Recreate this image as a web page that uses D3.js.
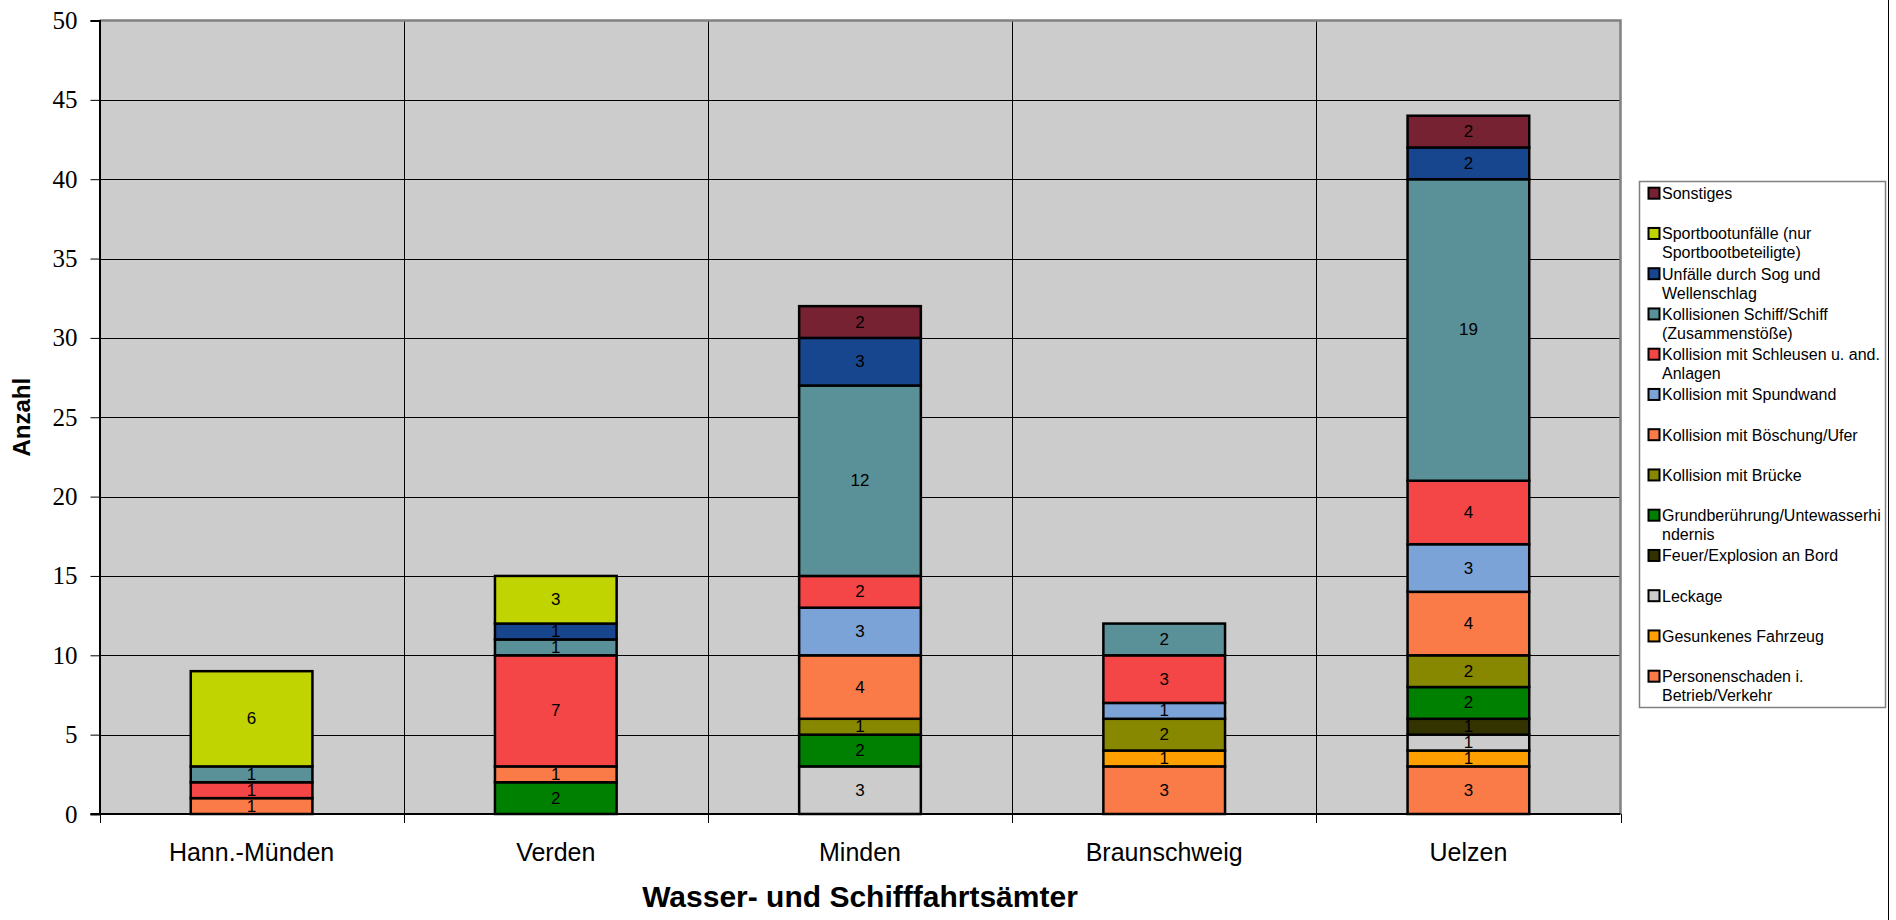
<!DOCTYPE html>
<html><head><meta charset="utf-8">
<script src="https://cdn.jsdelivr.net/npm/d3@7"></script>
<style>
html,body{margin:0;padding:0;background:#fff;}
svg{display:block;}
text{font-family:Arial,"Liberation Sans",sans-serif;}
</style></head>
<body>
<svg id="chart" width="1896" height="920"></svg>
<script>
// ---- data ----
const categories = ["Hann.-Münden", "Verden", "Minden", "Braunschweig", "Uelzen"];
// stacking order bottom -> top
const seriesNames = [
  "Personenschaden i. Betrieb/Verkehr",
  "Gesunkenes Fahrzeug",
  "Leckage",
  "Feuer/Explosion an Bord",
  "Grundberührung/Untewasserhindernis",
  "Kollision mit Brücke",
  "Kollision mit Böschung/Ufer",
  "Kollision mit Spundwand",
  "Kollision mit Schleusen u. and. Anlagen",
  "Kollisionen Schiff/Schiff (Zusammenstöße)",
  "Unfälle durch Sog und Wellenschlag",
  "Sportbootunfälle (nur Sportbootbeteiligte)",
  "Sonstiges"
];
const legendLines = [
  ["Personenschaden i.", "Betrieb/Verkehr"],
  ["Gesunkenes Fahrzeug"],
  ["Leckage"],
  ["Feuer/Explosion an Bord"],
  ["Grundberührung/Untewasserhi", "ndernis"],
  ["Kollision mit Brücke"],
  ["Kollision mit Böschung/Ufer"],
  ["Kollision mit Spundwand"],
  ["Kollision mit Schleusen u. and.", "Anlagen"],
  ["Kollisionen Schiff/Schiff", "(Zusammenstöße)"],
  ["Unfälle durch Sog und", "Wellenschlag"],
  ["Sportbootunfälle (nur", "Sportbootbeteiligte)"],
  ["Sonstiges"]
];
const personenschaden = [0, 0, 0, 3, 3];
const gesunkenes      = [0, 0, 0, 1, 1];
const leckage         = [0, 0, 3, 0, 1];
const feuer           = [0, 0, 0, 0, 1];
const grundberuehrung = [0, 2, 2, 0, 2];
const bruecke         = [0, 0, 1, 2, 2];
const boeschung       = [1, 1, 4, 0, 4];
const spundwand       = [0, 0, 3, 1, 3];
const schleusen       = [1, 7, 2, 3, 4];
const schiffSchiff    = [1, 1, 12, 2, 19];
const sog             = [0, 1, 3, 0, 2];
const sportboot       = [6, 3, 0, 0, 0];
const sonstiges       = [0, 0, 2, 0, 2];
const seriesValues = [personenschaden, gesunkenes, leckage, feuer, grundberuehrung, bruecke,
  boeschung, spundwand, schleusen, schiffSchiff, sog, sportboot, sonstiges];
const seriesColors = ["#fa7a48", "#ffa000", "#cccccc", "#333300", "#008000", "#888700",
  "#fa7a48", "#7ba3d8", "#f44646", "#5a9198", "#17468f", "#bfd400", "#772232"];
const yTicks = [0, 5, 10, 15, 20, 25, 30, 35, 40, 45, 50];
const yLabel = "Anzahl";
const xLabel = "Wasser- und Schifffahrtsämter";

// ---- layout ----
const svg = d3.select("#chart");
const P = {left: 99.5, right: 1620.5, top: 20.5, bottom: 814};

const x = d3.scaleBand().domain(categories).range([P.left, P.right])
  .paddingInner(0.6).paddingOuter(0.3);
const y = d3.scaleLinear().domain([0, 50]).range([P.bottom, P.top]);

// table for stack
const table = categories.map((c, i) => {
  const o = {cat: c};
  seriesNames.forEach((s, j) => o[s] = seriesValues[j][i]);
  return o;
});
const stacked = d3.stack().keys(seriesNames)(table);

// plot background
svg.append("rect").attr("x", P.left).attr("y", P.top)
  .attr("width", P.right - P.left).attr("height", P.bottom - P.top)
  .attr("fill", "#cccccc");

// horizontal gridlines
svg.append("g").selectAll("line").data(yTicks.filter(t => t > 0 && t < 50)).join("line")
  .attr("x1", P.left).attr("x2", P.right)
  .attr("y1", d => Math.round(y(d)) + 0.5).attr("y2", d => Math.round(y(d)) + 0.5)
  .attr("stroke", "#000").attr("stroke-width", 1);

// vertical category gridlines
const step = x.step();
const bounds = d3.range(categories.length + 1).map(i => P.left + i * step);
svg.append("g").selectAll("line").data(bounds.slice(1, -1)).join("line")
  .attr("x1", d => Math.round(d) + 0.5).attr("x2", d => Math.round(d) + 0.5)
  .attr("y1", P.top).attr("y2", P.bottom)
  .attr("stroke", "#000").attr("stroke-width", 1);

// plot border top/right (gray)
svg.append("path")
  .attr("d", `M${P.left},${P.top}H${P.right}V${P.bottom}`)
  .attr("fill", "none").attr("stroke", "#808080").attr("stroke-width", 2.5);

// bars
const layers = svg.append("g").selectAll("g").data(stacked).join("g")
  .attr("fill", (d, i) => seriesColors[i]);
layers.selectAll("rect").data(d => d.map((v, i) => ({v, cat: categories[i]})).filter(e => e.v[1] - e.v[0] > 0))
  .join("rect")
  .attr("x", e => x(e.cat)).attr("width", x.bandwidth())
  .attr("y", e => y(e.v[1])).attr("height", e => y(e.v[0]) - y(e.v[1]))
  .attr("stroke", "#000").attr("stroke-width", 2.5);

// data labels
const labels = svg.append("g");
stacked.forEach((layer) => {
  layer.forEach((v, i) => {
    const val = v[1] - v[0];
    if (val > 0) {
      labels.append("text")
        .attr("x", x(categories[i]) + x.bandwidth() / 2)
        .attr("y", (y(v[0]) + y(v[1])) / 2)
        .attr("text-anchor", "middle").attr("dominant-baseline", "central")
        .attr("font-size", 17).attr("fill", "#000")
        .text(val);
    }
  });
});

// y axis
const yAxis = svg.append("g").attr("transform", `translate(${P.left},0)`)
  .call(d3.axisLeft(y).tickValues(yTicks).tickSize(9).tickPadding(13));
yAxis.select(".domain").attr("stroke", "#000").attr("stroke-width", 2);
yAxis.selectAll(".tick line").attr("stroke", "#000").attr("stroke-width", 1);
yAxis.selectAll(".tick text")
  .style("font-family", "'Liberation Serif','Times New Roman',serif")
  .style("font-size", "25px").attr("fill", "#000");

// x axis line + ticks at boundaries
svg.append("line").attr("x1", P.left - 9).attr("x2", P.right)
  .attr("y1", P.bottom).attr("y2", P.bottom).attr("stroke", "#000").attr("stroke-width", 2);
svg.append("g").selectAll("line").data(bounds).join("line")
  .attr("x1", d => Math.round(d) + 0.5).attr("x2", d => Math.round(d) + 0.5)
  .attr("y1", P.bottom).attr("y2", P.bottom + 9)
  .attr("stroke", "#000").attr("stroke-width", 1);
svg.append("g").selectAll("text").data(categories).join("text")
  .attr("x", d => x(d) + x.bandwidth() / 2).attr("y", 861)
  .attr("text-anchor", "middle").attr("font-size", 25).attr("fill", "#000")
  .text(d => d);

// axis titles
svg.append("text").attr("x", (P.left + P.right) / 2).attr("y", 907)
  .attr("text-anchor", "middle").attr("font-size", 30).attr("font-weight", "bold")
  .text(xLabel);
svg.append("text").attr("transform", `translate(30,${(P.top + P.bottom) / 2}) rotate(-90)`)
  .attr("text-anchor", "middle").attr("font-size", 24).attr("font-weight", "bold")
  .text(yLabel);

// right outer border
svg.append("line").attr("x1", 1888.5).attr("x2", 1888.5).attr("y1", 0).attr("y2", 920)
  .attr("stroke", "#000").attr("stroke-width", 1);

// legend
const L = {x: 1639.5, y: 181.5, w: 246, h: 526};
svg.append("rect").attr("x", L.x).attr("y", L.y).attr("width", L.w).attr("height", L.h)
  .attr("fill", "#fff").attr("stroke", "#808080").attr("stroke-width", 1.5);
const legendOrder = d3.range(seriesNames.length).reverse();
const lg = svg.append("g").selectAll("g").data(legendOrder).join("g")
  .attr("transform", (d, k) => `translate(0,${193.2 + k * 40.25})`);
lg.append("rect").attr("x", 1648.5).attr("y", -5.5).attr("width", 11).attr("height", 11)
  .attr("fill", d => seriesColors[d]).attr("stroke", "#000").attr("stroke-width", 2);
lg.each(function(d) {
  const t = d3.select(this).append("text").attr("x", 1662).attr("y", 0)
    .attr("font-size", 16).attr("fill", "#000").attr("dominant-baseline", "central");
  legendLines[d].forEach((line, li) => {
    t.append("tspan").attr("x", 1662).attr("dy", li === 0 ? 0 : 19).text(line);
  });
});
</script>
</body></html>
